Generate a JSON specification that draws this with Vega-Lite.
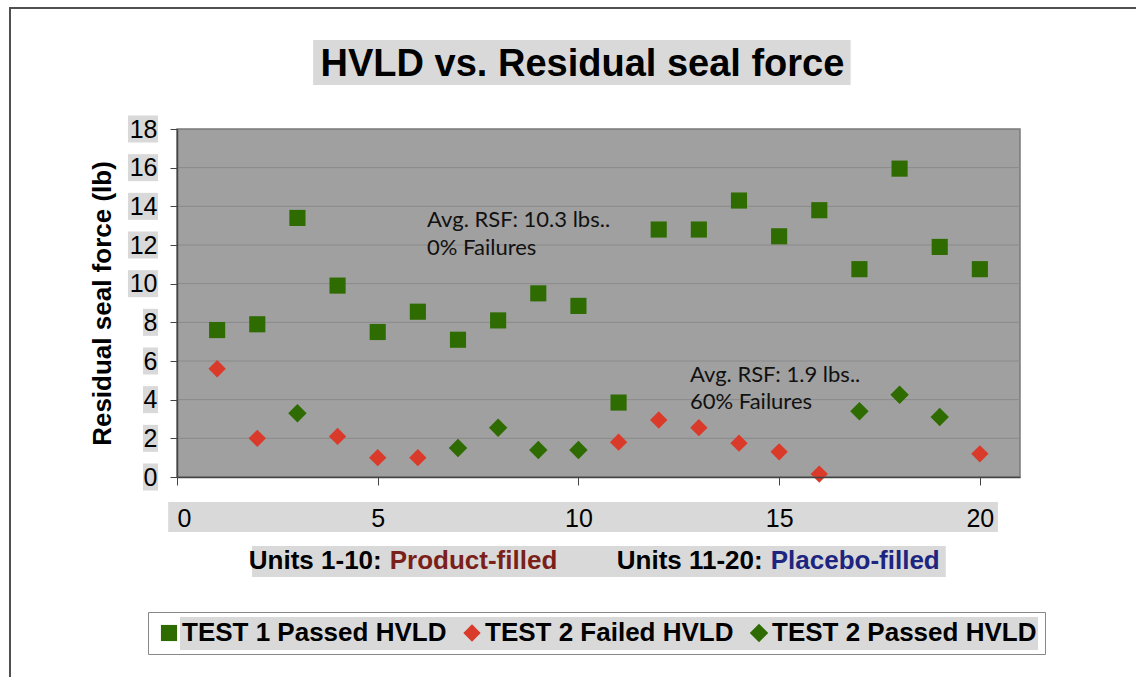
{
  "$schema": "https://vega.github.io/schema/vega-lite/v6.json",
  "width": 843,
  "height": 348,
  "autosize": {"type": "none"},
  "padding": {"left": 177, "top": 129, "right": 116, "bottom": 200},
  "background": "white",
  "config": {
    "font": "Liberation Sans",
    "view": {"fill": "#a0a0a0", "stroke": "#7a7a7a", "strokeWidth": 1.5},
    "axisX": {
      "grid": false,
      "domainColor": "#444444",
      "domainWidth": 1.5,
      "tickColor": "#444444",
      "tickSize": 8,
      "labelFont": "Liberation Sans",
      "labelFontSize": 25,
      "labelColor": "black",
      "labelPadding": 21,
      "labelOverlap": false
    },
    "axisY": {
      "grid": false,
      "domainColor": "#444444",
      "domainWidth": 1.5,
      "tickColor": "#444444",
      "tickSize": 7,
      "labelFont": "Liberation Sans",
      "labelFontSize": 25,
      "labelColor": "black",
      "labelPadding": 13,
      "labelOverlap": false,
      "titleFont": "Liberation Sans",
      "titleFontSize": 26,
      "titleFontWeight": "bold",
      "titleColor": "black",
      "titlePadding": 14
    },
    "legend": {
      "orient": "none",
      "legendX": -29,
      "legendY": 483,
      "direction": "horizontal",
      "fillColor": "transparent",
      "strokeColor": "#888888",
      "padding": 8,
      "labelFont": "Liberation Sans",
      "labelFontSize": 26,
      "labelFontWeight": "bold",
      "labelColor": "black",
      "labelLimit": 400,
      "labelOffset": 0,
      "columnPadding": 12,
      "symbolStrokeWidth": 0,
      "title": null
    }
  },
  "datasets": {
    "points": [
      {"unit": 1, "rsf": 7.6, "series": "TEST 1 Passed HVLD"},
      {"unit": 2, "rsf": 7.9, "series": "TEST 1 Passed HVLD"},
      {"unit": 3, "rsf": 13.4, "series": "TEST 1 Passed HVLD"},
      {"unit": 4, "rsf": 9.9, "series": "TEST 1 Passed HVLD"},
      {"unit": 5, "rsf": 7.5, "series": "TEST 1 Passed HVLD"},
      {"unit": 6, "rsf": 8.55, "series": "TEST 1 Passed HVLD"},
      {"unit": 7, "rsf": 7.1, "series": "TEST 1 Passed HVLD"},
      {"unit": 8, "rsf": 8.1, "series": "TEST 1 Passed HVLD"},
      {"unit": 9, "rsf": 9.5, "series": "TEST 1 Passed HVLD"},
      {"unit": 10, "rsf": 8.85, "series": "TEST 1 Passed HVLD"},
      {"unit": 11, "rsf": 3.85, "series": "TEST 1 Passed HVLD"},
      {"unit": 12, "rsf": 12.8, "series": "TEST 1 Passed HVLD"},
      {"unit": 13, "rsf": 12.8, "series": "TEST 1 Passed HVLD"},
      {"unit": 14, "rsf": 14.3, "series": "TEST 1 Passed HVLD"},
      {"unit": 15, "rsf": 12.45, "series": "TEST 1 Passed HVLD"},
      {"unit": 16, "rsf": 13.8, "series": "TEST 1 Passed HVLD"},
      {"unit": 17, "rsf": 10.75, "series": "TEST 1 Passed HVLD"},
      {"unit": 18, "rsf": 15.95, "series": "TEST 1 Passed HVLD"},
      {"unit": 19, "rsf": 11.9, "series": "TEST 1 Passed HVLD"},
      {"unit": 20, "rsf": 10.75, "series": "TEST 1 Passed HVLD"},
      {"unit": 1, "rsf": 5.6, "series": "TEST 2 Failed HVLD"},
      {"unit": 2, "rsf": 2.0, "series": "TEST 2 Failed HVLD"},
      {"unit": 4, "rsf": 2.1, "series": "TEST 2 Failed HVLD"},
      {"unit": 5, "rsf": 1.0, "series": "TEST 2 Failed HVLD"},
      {"unit": 6, "rsf": 1.0, "series": "TEST 2 Failed HVLD"},
      {"unit": 11, "rsf": 1.8, "series": "TEST 2 Failed HVLD"},
      {"unit": 12, "rsf": 2.95, "series": "TEST 2 Failed HVLD"},
      {"unit": 13, "rsf": 2.55, "series": "TEST 2 Failed HVLD"},
      {"unit": 14, "rsf": 1.75, "series": "TEST 2 Failed HVLD"},
      {"unit": 15, "rsf": 1.3, "series": "TEST 2 Failed HVLD"},
      {"unit": 16, "rsf": 0.15, "series": "TEST 2 Failed HVLD"},
      {"unit": 20, "rsf": 1.2, "series": "TEST 2 Failed HVLD"},
      {"unit": 3, "rsf": 3.3, "series": "TEST 2 Passed HVLD"},
      {"unit": 7, "rsf": 1.5, "series": "TEST 2 Passed HVLD"},
      {"unit": 8, "rsf": 2.55, "series": "TEST 2 Passed HVLD"},
      {"unit": 9, "rsf": 1.4, "series": "TEST 2 Passed HVLD"},
      {"unit": 10, "rsf": 1.4, "series": "TEST 2 Passed HVLD"},
      {"unit": 17, "rsf": 3.4, "series": "TEST 2 Passed HVLD"},
      {"unit": 18, "rsf": 4.25, "series": "TEST 2 Passed HVLD"},
      {"unit": 19, "rsf": 3.1, "series": "TEST 2 Passed HVLD"}
    ],
    "one": [{}],
    "ytick1": [{"v": 0}, {"v": 2}, {"v": 4}, {"v": 6}, {"v": 8}],
    "ytick2": [{"v": 10}, {"v": 12}, {"v": 14}, {"v": 16}, {"v": 18}],
    "ygrid": [{"v": 2}, {"v": 4}, {"v": 6}, {"v": 8}, {"v": 10}, {"v": 12}, {"v": 14}, {"v": 16}]
  },
  "layer": [
    {
      "data": {"name": "one"},
      "mark": {"type": "rect", "fill": null, "fillOpacity": 0, "stroke": "#505050", "strokeWidth": 2, "clip": false},
      "encoding": {
        "x": {"datum": -4.16, "type": "quantitative", "scale": {"domain": [0, 21], "nice": false, "zero": false}},
        "x2": {"datum": 40},
        "y": {"datum": 24.26, "type": "quantitative", "scale": {"domain": [0, 18], "nice": false, "zero": false}},
        "y2": {"datum": -30}
      }
    },
    {
      "data": {"name": "one"},
      "mark": {"type": "rect", "fill": "#d9d9d9", "clip": false},
      "encoding": {
        "x": {"datum": 3.39, "type": "quantitative", "scale": {"domain": [0, 21], "nice": false, "zero": false}},
        "x2": {"datum": 16.78},
        "y": {"datum": 22.6, "type": "quantitative", "scale": {"domain": [0, 18], "nice": false, "zero": false}},
        "y2": {"datum": 20.28}
      }
    },
    {
      "data": {"name": "one"},
      "mark": {"type": "rect", "fill": "#d9d9d9", "clip": false},
      "encoding": {
        "x": {"datum": -0.22, "type": "quantitative", "scale": {"domain": [0, 21], "nice": false, "zero": false}},
        "x2": {"datum": 20.45},
        "y": {"datum": -1.29, "type": "quantitative", "scale": {"domain": [0, 18], "nice": false, "zero": false}},
        "y2": {"datum": -2.85}
      }
    },
    {
      "data": {"name": "one"},
      "mark": {"type": "rect", "fill": "#d9d9d9", "clip": false},
      "encoding": {
        "x": {"datum": 1.87, "type": "quantitative", "scale": {"domain": [0, 21], "nice": false, "zero": false}},
        "x2": {"datum": 19.15},
        "y": {"datum": -3.57, "type": "quantitative", "scale": {"domain": [0, 18], "nice": false, "zero": false}},
        "y2": {"datum": -5.17}
      }
    },
    {
      "data": {"name": "one"},
      "mark": {"type": "rect", "fill": "#d9d9d9", "clip": false},
      "encoding": {
        "x": {"datum": 0.075, "type": "quantitative", "scale": {"domain": [0, 21], "nice": false, "zero": false}},
        "x2": {"datum": 21.45},
        "y": {"datum": -7.24, "type": "quantitative", "scale": {"domain": [0, 18], "nice": false, "zero": false}},
        "y2": {"datum": -8.95}
      }
    },
    {
      "data": {"name": "ytick1"},
      "mark": {"type": "point", "shape": "M-1,-1.8H1V1.8H-1Z", "size": 225, "filled": true, "fill": "#d9d9d9", "opacity": 1, "strokeWidth": 0, "clip": false},
      "encoding": {
        "x": {"datum": -0.66, "type": "quantitative", "scale": {"domain": [0, 21], "nice": false, "zero": false}},
        "y": {"field": "v", "type": "quantitative", "scale": {"domain": [0, 18], "nice": false, "zero": false}}
      }
    },
    {
      "data": {"name": "ytick2"},
      "mark": {"type": "point", "shape": "M-1,-0.9H1V0.9H-1Z", "size": 900, "filled": true, "fill": "#d9d9d9", "opacity": 1, "strokeWidth": 0, "clip": false},
      "encoding": {
        "x": {"datum": -0.848, "type": "quantitative", "scale": {"domain": [0, 21], "nice": false, "zero": false}},
        "y": {"field": "v", "type": "quantitative", "scale": {"domain": [0, 18], "nice": false, "zero": false}}
      }
    },
    {
      "data": {"name": "ygrid"},
      "mark": {"type": "rule", "stroke": "#8a8a8a", "strokeWidth": 1},
      "encoding": {
        "x": {"datum": 0, "type": "quantitative", "scale": {"domain": [0, 21], "nice": false, "zero": false}},
        "x2": {"datum": 21},
        "y": {"field": "v", "type": "quantitative", "scale": {"domain": [0, 18], "nice": false, "zero": false}}
      }
    },
    {
      "data": {"name": "points"},
      "mark": {"type": "point", "filled": true, "opacity": 1, "strokeWidth": 0},
      "encoding": {
        "x": {"field": "unit", "type": "quantitative", "scale": {"domain": [0, 21], "nice": false, "zero": false}, "axis": {"values": [0, 5, 10, 15, 20], "title": null, "zindex": 1, "labelOverlap": false}},
        "y": {"field": "rsf", "type": "quantitative", "scale": {"domain": [0, 18], "nice": false, "zero": false}, "axis": {"title": "Residual seal force (lb)", "zindex": 1, "grid": false, "labelOverlap": false, "tickCount": 9}},
        "color": {"field": "series", "type": "nominal", "scale": {"range": ["#2e6b00", "#d93a2a", "#2e6b00"]}},
        "shape": {"field": "series", "type": "nominal", "scale": {"range": ["square", "diamond", "diamond"]}},
        "size": {"field": "series", "type": "nominal", "scale": {"range": [260, 340, 340]}}
      }
    },
    {
      "data": {"name": "one"},
      "mark": {"type": "text", "text": "HVLD vs. Residual seal force", "font": "Liberation Sans", "fontSize": 38, "fontWeight": "bold", "color": "black", "align": "center", "baseline": "alphabetic", "clip": false},
      "encoding": {
        "x": {"datum": 10.1, "type": "quantitative", "scale": {"domain": [0, 21], "nice": false, "zero": false}},
        "y": {"datum": 20.74, "type": "quantitative", "scale": {"domain": [0, 18], "nice": false, "zero": false}}
      }
    },
    {
      "data": {"name": "one"},
      "mark": {"type": "text", "text": ["Avg. RSF: 10.3 lbs..", "0% Failures"], "font": "Lato", "fontSize": 22, "color": "#111111", "align": "left", "baseline": "alphabetic", "lineHeight": 28, "clip": false},
      "encoding": {
        "x": {"datum": 6.23, "type": "quantitative", "scale": {"domain": [0, 21], "nice": false, "zero": false}},
        "y": {"datum": 12.92, "type": "quantitative", "scale": {"domain": [0, 18], "nice": false, "zero": false}}
      }
    },
    {
      "data": {"name": "one"},
      "mark": {"type": "text", "text": ["Avg. RSF: 1.9 lbs..", "60% Failures"], "font": "Lato", "fontSize": 22, "color": "#111111", "align": "left", "baseline": "alphabetic", "lineHeight": 27, "clip": false},
      "encoding": {
        "x": {"datum": 12.78, "type": "quantitative", "scale": {"domain": [0, 21], "nice": false, "zero": false}},
        "y": {"datum": 4.93, "type": "quantitative", "scale": {"domain": [0, 18], "nice": false, "zero": false}}
      }
    },
    {
      "data": {"name": "one"},
      "mark": {"type": "text", "text": "Units 1-10:", "font": "Liberation Sans", "fontSize": 26, "fontWeight": "bold", "color": "black", "align": "right", "baseline": "middle", "dx": -4, "clip": false},
      "encoding": {
        "x": {"datum": 5.2, "type": "quantitative", "scale": {"domain": [0, 21], "nice": false, "zero": false}},
        "y": {"datum": -4.35, "type": "quantitative", "scale": {"domain": [0, 18], "nice": false, "zero": false}}
      }
    },
    {
      "data": {"name": "one"},
      "mark": {"type": "text", "text": "Product-filled", "font": "Liberation Sans", "fontSize": 26, "fontWeight": "bold", "color": "#7b1f1a", "align": "left", "baseline": "middle", "dx": 4, "clip": false},
      "encoding": {
        "x": {"datum": 5.2, "type": "quantitative", "scale": {"domain": [0, 21], "nice": false, "zero": false}},
        "y": {"datum": -4.35, "type": "quantitative", "scale": {"domain": [0, 18], "nice": false, "zero": false}}
      }
    },
    {
      "data": {"name": "one"},
      "mark": {"type": "text", "text": "Units 11-20:", "font": "Liberation Sans", "fontSize": 26, "fontWeight": "bold", "color": "black", "align": "right", "baseline": "middle", "dx": -4, "clip": false},
      "encoding": {
        "x": {"datum": 14.69, "type": "quantitative", "scale": {"domain": [0, 21], "nice": false, "zero": false}},
        "y": {"datum": -4.35, "type": "quantitative", "scale": {"domain": [0, 18], "nice": false, "zero": false}}
      }
    },
    {
      "data": {"name": "one"},
      "mark": {"type": "text", "text": "Placebo-filled", "font": "Liberation Sans", "fontSize": 26, "fontWeight": "bold", "color": "#1c2580", "align": "left", "baseline": "middle", "dx": 4, "clip": false},
      "encoding": {
        "x": {"datum": 14.69, "type": "quantitative", "scale": {"domain": [0, 21], "nice": false, "zero": false}},
        "y": {"datum": -4.35, "type": "quantitative", "scale": {"domain": [0, 18], "nice": false, "zero": false}}
      }
    }
  ]
}
